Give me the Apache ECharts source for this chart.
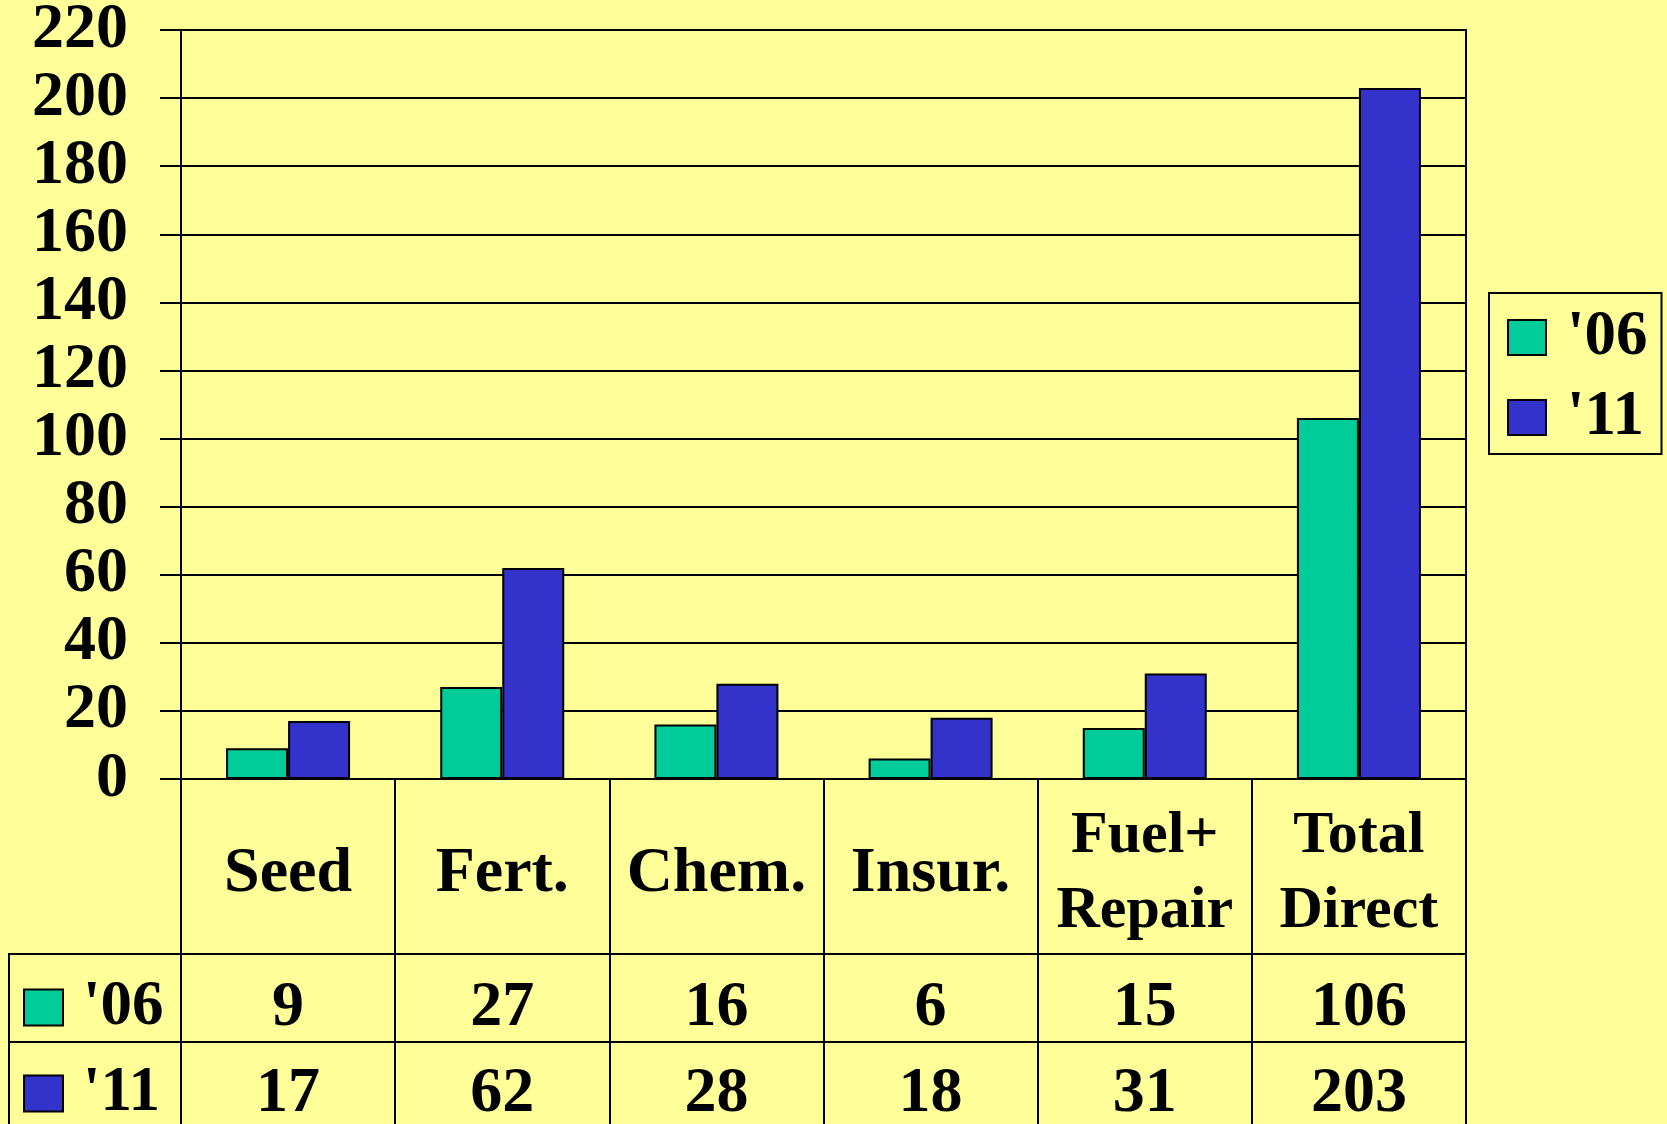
<!DOCTYPE html>
<html><head><meta charset="utf-8">
<script src="https://cdn.jsdelivr.net/npm/echarts@6/dist/echarts.min.js"></script>
<style>html,body{margin:0;padding:0;background:#FFFF99}#c{width:1667px;height:1124px}</style>
</head><body><div id="c"></div>
<script>
// ---- data ----
const categories = ['Seed', 'Fert.', 'Chem.', 'Insur.', 'Fuel+\nRepair', 'Total\nDirect'];
const seriesNames = ["'06", "'11"];
const values06 = [9, 27, 16, 6, 15, 106];
const values11 = [17, 62, 28, 18, 31, 203];
const yMin = 0, yMax = 220, yInterval = 20;

// ---- style ----
const FONT = "'Liberation Serif', 'Times New Roman', serif";
const BLACK = '#000';
const C06 = '#00CC99', C11 = '#3333CC';
const FS = 64;
const txt = (size) => ({ color: BLACK, fontFamily: FONT, fontWeight: 'bold', fontSize: size });

const G = { left: 181, top: 30, right: 201, bottom: 345 }; // plot area
const headerH = 175, rowH = 88;

const chart = echarts.init(document.getElementById('c'));
chart.setOption({
  backgroundColor: '#FFFF99',
  animation: false,
  grid: [
    Object.assign({ show: true, borderColor: BLACK, borderWidth: 2, backgroundColor: 'transparent', containLabel: false, outerBoundsMode: 'none' }, G),
    { left: 9, top: 1124 - G.bottom + headerH, width: G.left - 9, height: rowH * 2, show: true, borderColor: BLACK, borderWidth: 2, backgroundColor: 'transparent', containLabel: false, outerBoundsMode: 'none' }
  ],
  legend: [
    {
      data: seriesNames, orient: 'vertical', left: 1489, top: 293,
      padding: [13, 14, 5, 18], itemGap: 17, itemWidth: 38, itemHeight: 35,
      borderColor: BLACK, borderWidth: 2, icon: 'rect', selectedMode: false,
      textStyle: Object.assign(txt(63), { lineHeight: 62, padding: [0, 0, 0, 16] })
    },
    {
      data: seriesNames, orient: 'vertical', left: 23, top: 976, width: 160, height: 220,
      padding: 0, itemGap: 23, itemWidth: 39, itemHeight: 36, icon: 'rect', selectedMode: false,
      textStyle: Object.assign(txt(63), { lineHeight: 62, padding: [0, 0, 0, 15] })
    }
  ],
  xAxis: [
    {
      type: 'category', gridIndex: 0, data: categories, position: 'bottom',
      axisLine: { show: true, onZero: false, lineStyle: { color: BLACK, width: 2 } },
      axisTick: { show: true, interval: 0, length: headerH + rowH * 2, lineStyle: { color: BLACK, width: 2 } },
      axisLabel: Object.assign(txt(FS), { interval: 0, margin: 95, verticalAlign: 'middle', lineHeight: 75,
        rich: { n: Object.assign(txt(60), { lineHeight: 75 }) },
        formatter: (v) => v.indexOf('\n') >= 0 ? v.split('\n').map(s => '{n|' + s + '}').join('\n') : v })
    },
    {
      type: 'category', gridIndex: 0, data: categories, position: 'bottom', offset: headerH,
      axisLine: { show: true, onZero: false, lineStyle: { color: BLACK, width: 2 } },
      axisTick: { show: false },
      axisLabel: Object.assign(txt(FS), { interval: 0, margin: 54, verticalAlign: 'middle',
        formatter: (v, i) => String(values06[i]) })
    },
    {
      type: 'category', gridIndex: 0, data: categories, position: 'bottom', offset: headerH + rowH,
      axisLine: { show: true, onZero: false, lineStyle: { color: BLACK, width: 2 } },
      axisTick: { show: false },
      axisLabel: Object.assign(txt(FS), { interval: 0, margin: 52, verticalAlign: 'middle',
        formatter: (v, i) => String(values11[i]) })
    },
    { type: 'value', gridIndex: 1, min: 0, max: 1, show: false }
  ],
  yAxis: [
    {
      type: 'value', gridIndex: 0, min: yMin, max: yMax, interval: yInterval,
      axisLine: { show: true, lineStyle: { color: BLACK, width: 2 } },
      axisTick: { show: true, length: 21, lineStyle: { color: BLACK, width: 2 } },
      splitLine: { show: true, lineStyle: { color: BLACK, width: 2 } },
      axisLabel: Object.assign(txt(FS), { margin: 53 })
    },
    {
      type: 'category', gridIndex: 1, data: seriesNames, inverse: true,
      axisLine: { show: false }, axisTick: { show: false }, axisLabel: { show: false },
      splitLine: { show: true, lineStyle: { color: BLACK, width: 2 } }
    }
  ],
  series: [
    { name: seriesNames[0], type: 'bar', data: values06, barWidth: 62, barGap: '0%',
      itemStyle: { color: C06, borderColor: BLACK, borderWidth: 2 } },
    { name: seriesNames[1], type: 'bar', data: values11, barWidth: 62, barGap: '0%',
      itemStyle: { color: C11, borderColor: BLACK, borderWidth: 2 } }
  ]
});
</script></body></html>
